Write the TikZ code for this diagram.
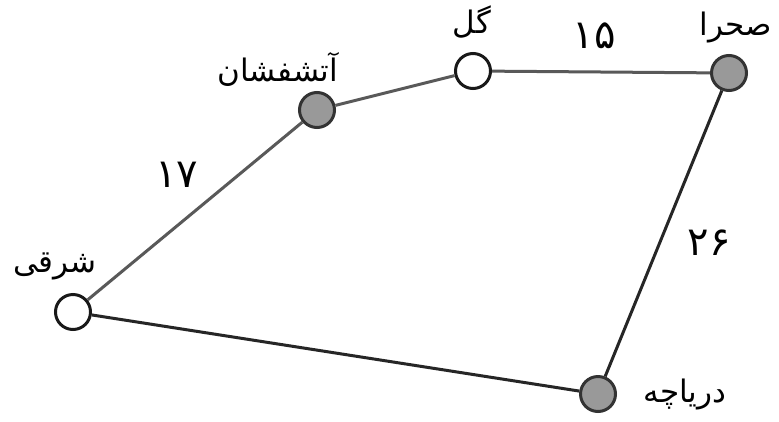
\documentclass[tikz,border=0pt]{standalone}
\usepackage{fontspec}
\TeXXeTstate=1
\newfontfamily\arabicfont[Script=Arabic]{DejaVu Sans}
\begin{document}
\begin{tikzpicture}[x=1pt,y=-1pt]
\tikzset{
  edge/.style={draw=black!65, line width=3pt},
  dark/.style={draw=black!85, line width=3pt},
  wnode/.style={circle, draw=black!90, line width=3pt, fill=white, minimum size=35pt, inner sep=0pt},
  gnode/.style={circle, draw=black!80, line width=3pt, fill=black!40, minimum size=35pt, inner sep=0pt},
  lbl/.style={font=\arabicfont\fontsize{31}{36}\selectfont, inner sep=0pt},
  num/.style={font=\arabicfont\fontsize{40}{44}\selectfont, inner sep=0pt}
}
\useasboundingbox[fill=white] (0,0) rectangle (779,421);
\node[wnode] (sharqi) at (73,312) {};
\node[gnode] (atash) at (317,110) {};
\node[wnode] (gol) at (473,71) {};
\node[gnode] (sahra) at (729,73) {};
\node[gnode] (darya) at (598,394) {};
\draw[edge] (sharqi) -- (atash);
\draw[edge] (atash) -- (gol);
\draw[edge] (gol) -- (sahra);
\draw[dark] (sahra) -- (darya);
\draw[dark] (darya) -- (sharqi);
\node[lbl] (lsharqi) at (55,266) {\beginR شرقی\endR};
\node[lbl] (latash) at (278,69) {\beginR آتشفشان\endR};
\node[lbl] (lgol) at (472,22) {\beginR گل\endR};
\node[lbl] (lsahra) at (736,28) {\beginR صحرا\endR};
\node[lbl] (ldarya) at (685,394) {\beginR دریاچه\endR};
\node[num] (n17) at (177,175) {۱۷};
\node[num] (n15) at (594,36) {۱۵};
\node[num] (n26) at (709,243) {۲۶};
\end{tikzpicture}
\end{document}
